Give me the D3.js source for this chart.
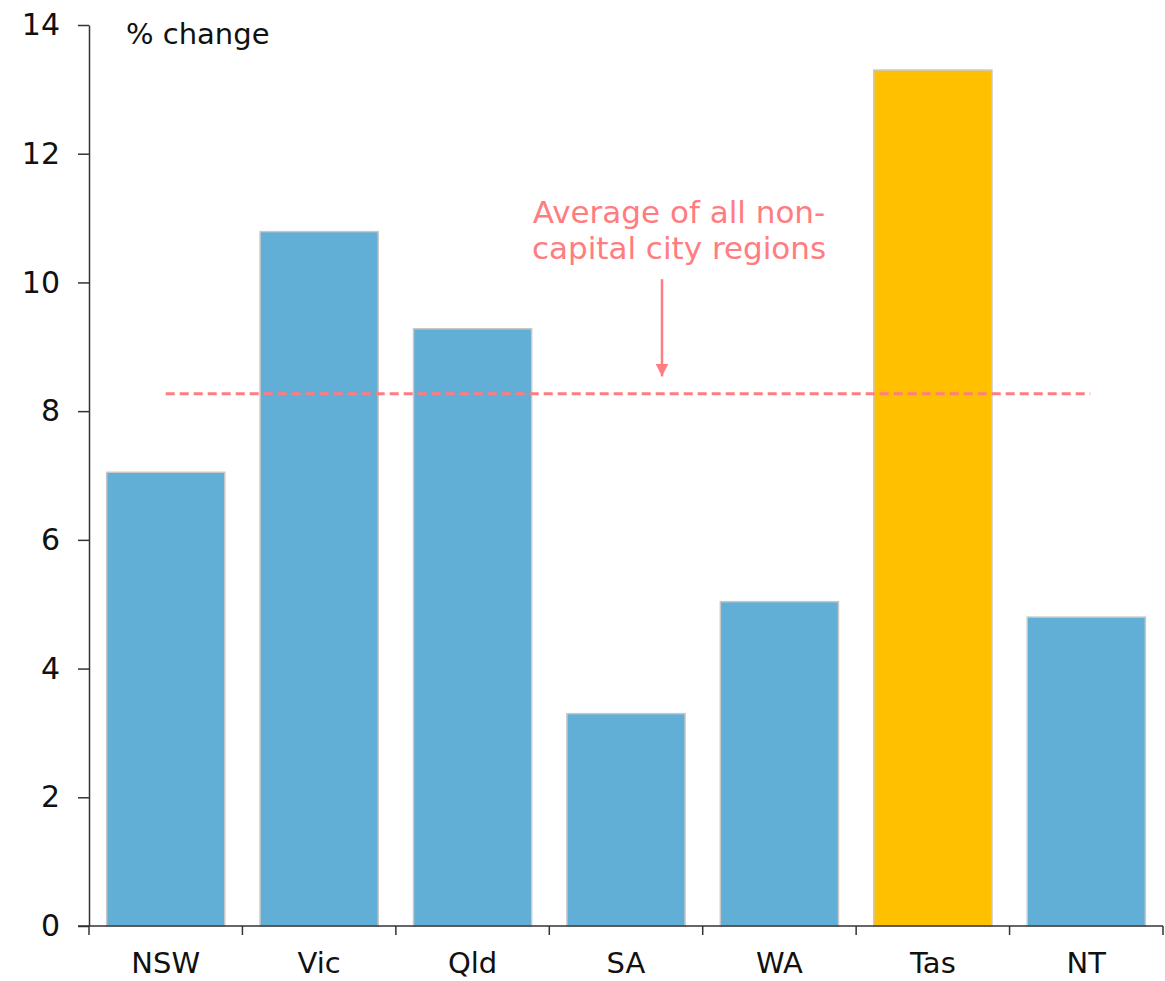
<!DOCTYPE html>
<html>
<head>
<meta charset="utf-8">
<script src="https://cdn.jsdelivr.net/npm/d3@7"></script>
<style>
  body { margin: 0; background: #fff; }
  text { font-family: "DejaVu Sans", sans-serif; }
</style>
</head>
<body>
<div id="chart"></div>
<script>
const width = 1165;
const height = 981;

// data
const states = ["NSW", "Vic", "Qld", "SA", "WA", "Tas", "NT"];
const changes = [7.05, 10.79, 9.28, 3.3, 5.04, 13.3, 4.8];
const highlight = ["Tas"];
const yTicks = [0, 2, 4, 6, 8, 10, 12, 14];
const average = 8.27;

const margin = {top: 25, right: 2, bottom: 55, left: 89};

const svg = d3.select("#chart")
    .append("svg")
    .attr("width", width)
    .attr("height", height);

const x = d3.scaleBand()
    .domain(states)
    .range([margin.left, width - margin.right])
    .paddingInner(0.23)
    .paddingOuter(0.115);

const y = d3.scaleLinear()
    .domain([0, 14])
    .range([height - margin.bottom, margin.top]);

// bars
svg.selectAll("rect.bar")
    .data(states)
    .enter()
    .append("rect")
    .attr("class", "bar")
    .attr("x", d => x(d))
    .attr("width", x.bandwidth())
    .attr("y", (d, i) => y(changes[i]))
    .attr("height", (d, i) => y(0) - y(changes[i]))
    .attr("fill", d => highlight.includes(d) ? "#FFC000" : "#61AED6")
    .attr("stroke", "#c8c8c8")
    .attr("stroke-width", 1.5);

// y axis
const yAxis = svg.append("g")
    .attr("transform", `translate(${margin.left},0)`)
    .call(d3.axisLeft(y).tickValues(yTicks).tickSize(11).tickPadding(18).tickSizeOuter(0));
yAxis.selectAll("text").attr("font-size", 30).attr("fill", "#111");
yAxis.select(".domain").attr("stroke", "#333").attr("stroke-width", 1.5);
yAxis.selectAll(".tick line").attr("stroke", "#333").attr("stroke-width", 1.5);

// x axis: ticks sit between categories
const bounds = states.map(d => x(d) - x.step() * x.paddingInner() / 2);
bounds.push(width - margin.right);
const xAxis = svg.append("g")
    .attr("transform", `translate(0,${y(0)})`);
xAxis.append("line")
    .attr("x1", margin.left - 11).attr("x2", width - margin.right)
    .attr("stroke", "#333").attr("stroke-width", 1.5);
xAxis.selectAll("line.tick")
    .data(bounds)
    .enter()
    .append("line")
    .attr("class", "tick")
    .attr("x1", d => d).attr("x2", d => d)
    .attr("y1", 0).attr("y2", 9)
    .attr("stroke", "#333").attr("stroke-width", 1.5);
xAxis.selectAll("text")
    .data(states)
    .enter()
    .append("text")
    .attr("x", d => x(d) + x.bandwidth() / 2)
    .attr("y", 47)
    .attr("text-anchor", "middle")
    .attr("font-size", 29)
    .attr("fill", "#111")
    .text(d => d);

// unit label
svg.append("text")
    .attr("x", 126)
    .attr("y", 44)
    .attr("font-size", 29)
    .attr("fill", "#111")
    .text("% change");

// average line
const pink = "#FF7C80";
svg.append("line")
    .attr("x1", x("NSW") + x.bandwidth() / 2)
    .attr("x2", x("NT") + x.bandwidth() / 2 + 4)
    .attr("y1", y(average)).attr("y2", y(average))
    .attr("stroke", pink)
    .attr("stroke-width", 3)
    .attr("stroke-dasharray", "9,5");

// annotation
svg.append("defs").append("marker")
    .attr("id", "arrow")
    .attr("viewBox", "0 0 10 10")
    .attr("refX", 10).attr("refY", 5)
    .attr("markerWidth", 5).attr("markerHeight", 5)
    .attr("markerUnits", "strokeWidth")
    .attr("orient", "auto")
    .append("path")
    .attr("d", "M0,0L10,5L0,10Z")
    .attr("fill", pink);

svg.append("line")
    .attr("x1", 662).attr("x2", 662)
    .attr("y1", y(10.05)).attr("y2", y(8.54))
    .attr("stroke", pink)
    .attr("stroke-width", 2.5)
    .attr("marker-end", "url(#arrow)");

const note = svg.append("text")
    .attr("text-anchor", "middle")
    .attr("font-size", 31)
    .attr("fill", pink);
note.append("tspan").attr("x", 679).attr("y", 223).text("Average of all non-");
note.append("tspan").attr("x", 679).attr("y", 259).text("capital city regions");
</script>
</body>
</html>
